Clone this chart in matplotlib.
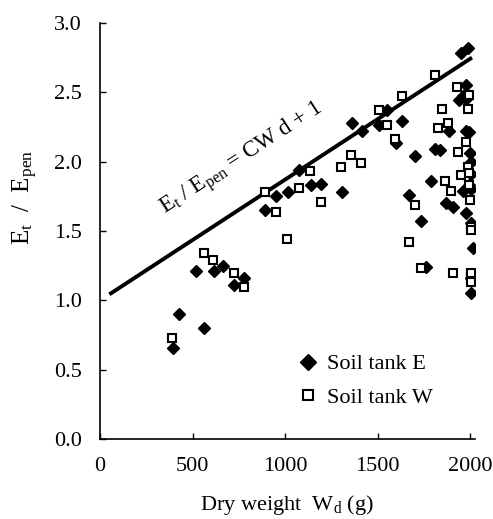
import numpy as np
import matplotlib
matplotlib.use('Agg')
import matplotlib.pyplot as plt

plt.rcParams['font.family'] = 'Liberation Serif'
plt.rcParams['mathtext.fontset'] = 'custom'
plt.rcParams['mathtext.rm'] = 'Liberation Serif'
plt.rcParams['mathtext.it'] = 'Liberation Serif'

# Soil tank E (filled diamonds)
tank_e_x = [392, 428, 563, 516, 613, 665, 723, 779, 894, 950, 1014, 1076, 1138, 1194,
            1306, 1363, 1415, 1509, 1552, 1600, 1631, 1703, 1668, 1737, 1763, 1786,
            1812, 1835, 1867, 1884, 1910, 1948, 1991, 1975, 1940, 1962, 1978, 1975,
            1992, 1997, 2005, 2007, 1959, 1995, 2003, 1975, 2002, 2013, 2007, 2005]
tank_e_y = [0.66, 0.90, 0.80, 1.21, 1.21, 1.25, 1.11, 1.16, 1.65, 1.75, 1.78, 1.94, 1.83, 1.84,
            1.78, 2.28, 2.22, 2.26, 2.37, 2.13, 2.29, 2.04, 1.76, 1.57, 1.24, 1.86,
            2.09, 2.08, 1.70, 2.22, 1.67, 2.78, 2.82, 2.55, 2.44, 2.47, 2.45, 2.22,
            2.21, 2.06, 2.00, 1.91, 1.79, 1.83, 1.80, 1.63, 1.56, 1.38, 1.05, 1.16]

# Soil tank W (open squares)
tank_w_x = [390, 559, 612, 723, 777, 894, 950, 1011, 1074, 1135, 1192, 1302, 1358, 1412,
            1505, 1549, 1595, 1631, 1667, 1701, 1732, 1808, 1827, 1847, 1880, 1865,
            1899, 1906, 1928, 1937, 1951, 1975, 1996, 1987, 1987, 1996, 1996, 2000,
            2002, 2005, 2005, 2002, 2007]
tank_w_y = [0.73, 1.34, 1.29, 1.20, 1.10, 1.78, 1.64, 1.44, 1.81, 1.93, 1.71, 1.96, 2.05, 1.99,
            2.37, 2.26, 2.16, 2.47, 1.42, 1.69, 1.23, 2.62, 2.24, 2.38, 2.28, 1.86,
            1.79, 1.20, 2.54, 2.07, 1.90, 2.14, 2.48, 2.38, 1.96, 1.92, 1.83, 1.72,
            1.53, 1.51, 1.18, 1.13, 1.20]

# fitted line Et/Epen = C*Wd + 1
fit_c = 0.00087
fit_x = [50, 2010]

fig = plt.figure(figsize=(4.93, 5.19), dpi=100)
ax = fig.add_axes([0.203, 0.1536, 0.76, 0.8027])

fit_y = [fit_c * v + 1 for v in fit_x]
ax.plot(fit_x, fit_y, color='black', linewidth=2.8, solid_capstyle='butt')

ax.plot(tank_e_x, tank_e_y, linestyle='none', marker='D', markersize=6.5,
        color='black', label='Soil tank E')
ax.plot(tank_w_x, tank_w_y, linestyle='none', marker='s', markersize=6,
        markerfacecolor='white', markeredgecolor='black', markeredgewidth=1.5,
        label='Soil tank W')

ax.text(765, 2.02, r'E$_\mathrm{t}$ / E$_\mathrm{pen}$ = CW d + 1', rotation=33,
        ha='center', va='center', fontsize=16.5)

ax.set_xlim(0, 2025)
ax.set_ylim(0, 3.0)
ax.set_xticks([0, 500, 1000, 1500, 2000])
ax.set_yticks(np.arange(0, 3.01, 0.5))
ax.set_yticklabels(['%.1f' % v for v in np.arange(0, 3.01, 0.5)])
ax.tick_params(direction='in', length=4, width=1, labelsize=16, pad=13)
for side in ['top', 'right']:
    ax.spines[side].set_visible(False)
for side in ['left', 'bottom']:
    ax.spines[side].set_linewidth(1.2)

ax.set_xlabel(r'Dry weight  W$_\mathrm{d}$ (g)', fontsize=16, va='center')
ax.xaxis.set_label_coords(0.5, -0.158)
ax.set_ylabel(r'E$_\mathrm{t}$  /  E$_\mathrm{pen}$', fontsize=18, va='center')
ax.yaxis.set_label_coords(-0.2, 0.58)

leg = ax.legend(loc='center left', bbox_to_anchor=(0.495, 0.14), frameon=False, fontsize=16,
                handletextpad=0.25, labelspacing=0.6, borderaxespad=0, handlelength=1.2,
                markerscale=1.3)

fig.savefig('out.png', dpi=100)
